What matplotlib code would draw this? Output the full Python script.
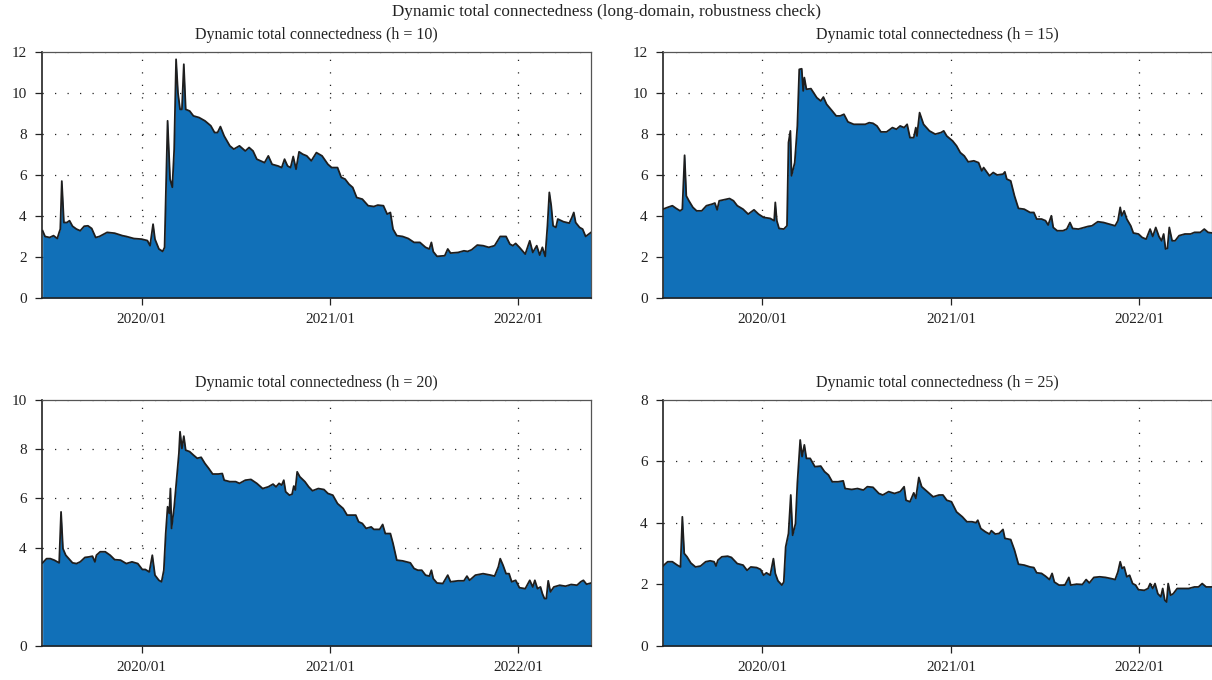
import pandas as pd
import matplotlib
matplotlib.use("Agg")
import matplotlib.pyplot as plt
import matplotlib.dates as mdates

plt.rcParams["font.family"] = ["Liberation Serif", "DejaVu Serif"]

# decimal-year positions and values
t10 = [2019.474, 2019.487, 2019.511, 2019.532, 2019.552, 2019.562, 2019.568, 2019.576, 2019.587, 2019.603,
       2019.617, 2019.633, 2019.654, 2019.674, 2019.695, 2019.715, 2019.735, 2019.756, 2019.776, 2019.796,
       2019.817, 2019.857, 2019.878, 2019.898, 2019.919, 2019.939, 2019.959, 2020.000, 2020.031, 2020.045,
       2020.061, 2020.071, 2020.092, 2020.112, 2020.122, 2020.128, 2020.138, 2020.151, 2020.163, 2020.173,
       2020.183, 2020.193, 2020.204, 2020.214, 2020.224, 2020.234, 2020.255, 2020.275, 2020.305, 2020.336,
       2020.367, 2020.387, 2020.403, 2020.418, 2020.438, 2020.468, 2020.489, 2020.519, 2020.550, 2020.570,
       2020.591, 2020.611, 2020.652, 2020.672, 2020.692, 2020.723, 2020.743, 2020.758, 2020.774, 2020.790,
       2020.804, 2020.819, 2020.835, 2020.855, 2020.876, 2020.900, 2020.927, 2020.957, 2020.988, 2021.008,
       2021.039, 2021.059, 2021.079, 2021.100, 2021.120, 2021.141, 2021.171, 2021.202, 2021.232, 2021.253,
       2021.283, 2021.303, 2021.320, 2021.334, 2021.354, 2021.385, 2021.415, 2021.446, 2021.477, 2021.507,
       2021.527, 2021.538, 2021.548, 2021.568, 2021.609, 2021.625, 2021.640, 2021.680, 2021.711, 2021.731,
       2021.752, 2021.782, 2021.813, 2021.843, 2021.874, 2021.904, 2021.935, 2021.955, 2021.971, 2021.986,
       2022.006, 2022.037, 2022.061, 2022.077, 2022.098, 2022.114, 2022.128, 2022.143, 2022.155, 2022.165,
       2022.175, 2022.185, 2022.200, 2022.210, 2022.240, 2022.271, 2022.285, 2022.295, 2022.305, 2022.326,
       2022.342, 2022.358, 2022.387]
v10 = [3.28, 3.0, 2.95, 3.04, 2.9, 3.2, 3.36, 5.7, 3.68, 3.68,
       3.77, 3.5, 3.36, 3.28, 3.5, 3.52, 3.39, 2.95, 3.0, 3.1,
       3.2, 3.16, 3.1, 3.04, 3.0, 2.95, 2.9, 2.87, 2.8, 2.55,
       3.6, 2.87, 2.39, 2.27, 2.47, 4.8, 8.64, 5.8, 5.4, 7.26,
       11.64, 10.0, 9.2, 9.2, 11.4, 9.2, 9.12, 8.88, 8.8, 8.64,
       8.4, 8.07, 8.07, 8.36, 7.9, 7.42, 7.26, 7.42, 7.17, 7.34,
       7.17, 6.77, 6.6, 6.93, 6.52, 6.44, 6.36, 6.77, 6.44, 6.36,
       6.9, 6.28, 7.13, 7.01, 6.93, 6.69, 7.09, 6.93, 6.52, 6.36,
       6.36, 5.88, 5.8, 5.55, 5.39, 4.9, 4.82, 4.5, 4.46, 4.53,
       4.5, 4.09, 4.17, 3.36, 3.04, 3.0, 2.9, 2.71, 2.71, 2.47,
       2.39, 2.71, 2.26, 2.03, 2.06, 2.39, 2.19, 2.22, 2.3, 2.27,
       2.35, 2.58, 2.55, 2.47, 2.55, 3.0, 3.0, 2.63, 2.55, 2.66,
       2.47, 2.14, 2.79, 2.22, 2.55, 2.09, 2.47, 2.03, 3.52, 5.15,
       4.5, 3.52, 3.44, 3.85, 3.72, 3.65, 3.93, 4.17, 3.68, 3.44,
       3.36, 3.0, 3.2]

t15 = [2019.471, 2019.496, 2019.521, 2019.541, 2019.562, 2019.574, 2019.586, 2019.595, 2019.609, 2019.630,
       2019.650, 2019.677, 2019.702, 2019.733, 2019.747, 2019.759, 2019.770, 2019.794, 2019.825, 2019.846,
       2019.866, 2019.897, 2019.924, 2019.955, 2019.979, 2020.006, 2020.041, 2020.062, 2020.068, 2020.076,
       2020.088, 2020.113, 2020.130, 2020.138, 2020.148, 2020.154, 2020.171, 2020.185, 2020.195, 2020.208,
       2020.216, 2020.222, 2020.233, 2020.257, 2020.288, 2020.309, 2020.323, 2020.340, 2020.370, 2020.391,
       2020.412, 2020.432, 2020.453, 2020.484, 2020.514, 2020.545, 2020.566, 2020.586, 2020.607, 2020.628,
       2020.658, 2020.689, 2020.710, 2020.730, 2020.751, 2020.767, 2020.782, 2020.802, 2020.813, 2020.819,
       2020.833, 2020.854, 2020.885, 2020.916, 2020.947, 2020.961, 2020.977, 2021.008, 2021.029, 2021.049,
       2021.070, 2021.091, 2021.121, 2021.146, 2021.163, 2021.173, 2021.204, 2021.224, 2021.245, 2021.276,
       2021.286, 2021.296, 2021.317, 2021.337, 2021.358, 2021.389, 2021.420, 2021.440, 2021.455, 2021.481,
       2021.502, 2021.516, 2021.533, 2021.543, 2021.564, 2021.595, 2021.615, 2021.632, 2021.646, 2021.677,
       2021.708, 2021.728, 2021.749, 2021.780, 2021.811, 2021.842, 2021.872, 2021.887, 2021.899, 2021.907,
       2021.920, 2021.934, 2021.955, 2021.969, 2021.996, 2022.016, 2022.037, 2022.058, 2022.072, 2022.088,
       2022.105, 2022.119, 2022.130, 2022.140, 2022.150, 2022.160, 2022.175, 2022.191, 2022.212, 2022.243,
       2022.273, 2022.294, 2022.325, 2022.346, 2022.366, 2022.387]
v15 = [4.33, 4.42, 4.5, 4.37, 4.25, 4.33, 6.96, 4.98, 4.74, 4.42,
       4.25, 4.25, 4.5, 4.58, 4.63, 4.3, 4.74, 4.79, 4.85, 4.74,
       4.5, 4.33, 4.09, 4.3, 4.09, 3.93, 3.88, 3.77, 4.66, 3.77,
       3.39, 3.36, 3.52, 7.58, 8.15, 5.96, 6.6, 8.39, 11.15, 11.18,
       10.1, 10.75, 10.18, 10.21, 9.77, 9.61, 9.8, 9.45, 9.12, 8.88,
       8.88, 8.96, 8.59, 8.47, 8.47, 8.47, 8.55, 8.52, 8.39, 8.1,
       8.1, 8.31, 8.23, 8.39, 8.31, 8.47, 7.82, 7.82, 8.31, 7.9,
       9.04, 8.47, 8.15, 7.99, 8.07, 8.15, 7.9, 7.66, 7.42, 7.09,
       6.93, 6.64, 6.69, 6.6, 6.2, 6.36, 5.96, 6.12, 6.0, 6.04,
       6.15, 5.8, 5.71, 4.98, 4.37, 4.33, 4.17, 4.17, 3.85, 3.85,
       3.77, 3.56, 4.01, 3.44, 3.28, 3.28, 3.36, 3.68, 3.39, 3.36,
       3.44, 3.49, 3.52, 3.72, 3.68, 3.6, 3.52, 3.77, 4.42, 4.01,
       4.25, 3.85, 3.52, 3.17, 3.12, 2.95, 2.87, 3.36, 3.0, 3.44,
       3.0, 2.79, 3.12, 2.39, 2.42, 3.44, 2.79, 2.79, 3.04, 3.12,
       3.12, 3.2, 3.2, 3.36, 3.2, 3.17]

t20 = [2019.474, 2019.495, 2019.515, 2019.536, 2019.562, 2019.572, 2019.582, 2019.597, 2019.613, 2019.633,
       2019.654, 2019.674, 2019.699, 2019.719, 2019.739, 2019.752, 2019.760, 2019.780, 2019.807, 2019.833,
       2019.857, 2019.888, 2019.919, 2019.949, 2019.980, 2020.004, 2020.020, 2020.041, 2020.057, 2020.071,
       2020.092, 2020.106, 2020.118, 2020.128, 2020.138, 2020.147, 2020.153, 2020.159, 2020.173, 2020.187,
       2020.198, 2020.204, 2020.214, 2020.224, 2020.234, 2020.255, 2020.275, 2020.295, 2020.316, 2020.336,
       2020.356, 2020.377, 2020.407, 2020.428, 2020.438, 2020.468, 2020.499, 2020.519, 2020.550, 2020.580,
       2020.611, 2020.642, 2020.672, 2020.697, 2020.713, 2020.729, 2020.743, 2020.754, 2020.764, 2020.784,
       2020.798, 2020.807, 2020.815, 2020.825, 2020.839, 2020.866, 2020.886, 2020.906, 2020.937, 2020.967,
       2020.988, 2021.014, 2021.039, 2021.069, 2021.090, 2021.116, 2021.136, 2021.151, 2021.171, 2021.191,
       2021.218, 2021.232, 2021.263, 2021.279, 2021.293, 2021.320, 2021.334, 2021.354, 2021.385, 2021.426,
       2021.446, 2021.466, 2021.487, 2021.507, 2021.527, 2021.538, 2021.548, 2021.568, 2021.599, 2021.625,
       2021.640, 2021.680, 2021.711, 2021.727, 2021.741, 2021.772, 2021.813, 2021.853, 2021.874, 2021.894,
       2021.904, 2021.919, 2021.935, 2021.951, 2021.965, 2021.986, 2022.006, 2022.037, 2022.061, 2022.077,
       2022.088, 2022.102, 2022.118, 2022.128, 2022.139, 2022.149, 2022.159, 2022.171, 2022.189, 2022.220,
       2022.251, 2022.281, 2022.312, 2022.332, 2022.346, 2022.363, 2022.387]
v20 = [3.38, 3.55, 3.55, 3.49, 3.38, 5.45, 3.96, 3.69, 3.55, 3.38,
       3.35, 3.42, 3.6, 3.62, 3.65, 3.42, 3.69, 3.83, 3.83, 3.69,
       3.51, 3.49, 3.35, 3.42, 3.35, 3.11, 3.11, 3.01, 3.69, 2.88,
       2.67, 2.61, 3.08, 4.57, 5.66, 5.39, 6.4, 4.78, 5.66, 6.88,
       7.83, 8.71, 8.03, 8.53, 7.96, 7.9, 7.76, 7.63, 7.67, 7.42,
       7.22, 6.99, 6.99, 7.01, 6.74, 6.68, 6.68, 6.61, 6.74, 6.77,
       6.61, 6.4, 6.47, 6.58, 6.47, 6.61, 6.54, 6.74, 6.27, 6.13,
       6.17, 6.5, 6.34, 7.08, 6.88, 6.68, 6.47, 6.31, 6.4, 6.36,
       6.2, 6.13, 5.79, 5.59, 5.32, 5.32, 5.32, 5.05, 4.98, 4.78,
       4.84, 4.74, 4.74, 4.94, 4.57, 4.57, 4.17, 3.49, 3.46, 3.38,
       3.15, 3.08, 3.08, 2.88, 2.84, 3.08, 2.74, 2.56, 2.54, 2.88,
       2.61, 2.65, 2.65, 2.84, 2.67, 2.88, 2.94, 2.88, 2.84, 3.22,
       3.55, 3.28, 2.94, 2.94, 2.61, 2.67, 2.37, 2.33, 2.67, 2.4,
       2.67, 2.33, 2.4, 2.13, 1.93, 1.93, 2.65, 2.2, 2.4, 2.47,
       2.43, 2.5, 2.47, 2.61, 2.67, 2.51, 2.56]

t25 = [2019.471, 2019.496, 2019.521, 2019.547, 2019.564, 2019.574, 2019.584, 2019.599, 2019.619, 2019.644,
       2019.671, 2019.698, 2019.722, 2019.743, 2019.753, 2019.763, 2019.784, 2019.815, 2019.835, 2019.866,
       2019.897, 2019.918, 2019.938, 2019.969, 2019.990, 2020.006, 2020.021, 2020.041, 2020.058, 2020.068,
       2020.082, 2020.103, 2020.113, 2020.123, 2020.138, 2020.150, 2020.160, 2020.175, 2020.185, 2020.200,
       2020.210, 2020.222, 2020.233, 2020.253, 2020.278, 2020.309, 2020.329, 2020.350, 2020.370, 2020.401,
       2020.428, 2020.438, 2020.473, 2020.504, 2020.535, 2020.556, 2020.586, 2020.617, 2020.638, 2020.669,
       2020.700, 2020.730, 2020.751, 2020.761, 2020.782, 2020.802, 2020.813, 2020.829, 2020.844, 2020.874,
       2020.905, 2020.936, 2020.957, 2020.977, 2021.002, 2021.029, 2021.060, 2021.084, 2021.111, 2021.132,
       2021.142, 2021.158, 2021.183, 2021.204, 2021.214, 2021.235, 2021.255, 2021.276, 2021.286, 2021.317,
       2021.337, 2021.358, 2021.389, 2021.420, 2021.440, 2021.455, 2021.481, 2021.502, 2021.523, 2021.537,
       2021.549, 2021.574, 2021.605, 2021.626, 2021.636, 2021.667, 2021.698, 2021.718, 2021.735, 2021.759,
       2021.790, 2021.821, 2021.852, 2021.872, 2021.887, 2021.899, 2021.909, 2021.920, 2021.934, 2021.949,
       2021.965, 2021.981, 2021.996, 2022.027, 2022.047, 2022.058, 2022.072, 2022.084, 2022.099, 2022.115,
       2022.125, 2022.136, 2022.146, 2022.154, 2022.167, 2022.181, 2022.202, 2022.233, 2022.263, 2022.294,
       2022.315, 2022.335, 2022.356, 2022.387]
v25 = [2.6, 2.74, 2.74, 2.63, 2.57, 4.2, 3.01, 2.9, 2.7, 2.57,
       2.6, 2.74, 2.77, 2.74, 2.6, 2.79, 2.9, 2.92, 2.88, 2.68,
       2.63, 2.46, 2.57, 2.55, 2.49, 2.3, 2.38, 2.3, 2.84, 2.36,
       2.12, 1.98, 2.08, 3.22, 3.66, 4.91, 3.6, 3.98, 5.29, 6.7,
       6.16, 6.54, 6.1, 6.1, 5.83, 5.85, 5.67, 5.56, 5.34, 5.34,
       5.37, 5.12, 5.09, 5.12, 5.07, 5.18, 5.16, 4.96, 4.91, 5.02,
       4.96, 5.02, 5.18, 4.74, 4.69, 4.98, 4.8, 5.48, 5.18, 5.02,
       4.85, 4.91, 4.91, 4.74, 4.69, 4.36, 4.2, 4.04, 4.04, 4.01,
       4.09, 3.82, 3.71, 3.64, 3.75, 3.64, 3.66, 3.79, 3.5, 3.46,
       3.12, 2.66, 2.63, 2.57, 2.55, 2.38, 2.36, 2.27, 2.16, 2.36,
       2.08, 1.98, 1.98, 2.23, 1.98, 2.01, 2.0, 2.16, 2.05, 2.23,
       2.25, 2.23, 2.19, 2.16, 2.41, 2.74, 2.52, 2.57, 2.25, 2.3,
       2.03, 1.98, 1.83, 1.81, 1.87, 2.03, 1.87, 2.03, 1.7, 1.6,
       1.87, 1.49, 1.43, 2.03, 1.65, 1.7, 1.87, 1.87, 1.87, 1.92,
       1.92, 2.03, 1.92, 1.92]

horizons = [10, 15, 20, 25]
series_t = [t10, t15, t20, t25]
series_v = [v10, v15, v20, v25]
y_ticks = [[0, 2, 4, 6, 8, 10, 12], [0, 2, 4, 6, 8, 10, 12], [0, 4, 6, 8, 10], [0, 2, 4, 6, 8]]
y_max = [12, 12, 10, 8]
x_start, x_end = 2019.471, 2022.387


def to_date(t):
    y = int(t)
    a = pd.Timestamp(year=y, month=1, day=1)
    b = pd.Timestamp(year=y + 1, month=1, day=1)
    return a + (b - a) * (t - y)


fill_col = "#1170b8"
fig = plt.figure(figsize=(12.12, 6.8), dpi=100)

# axes boxes in figure fractions (left, bottom, width, height)
boxes = [(0.0347, 0.5618, 0.453, 0.3618), (0.547, 0.5618, 0.453, 0.3618),
         (0.0347, 0.05, 0.453, 0.3618), (0.547, 0.05, 0.453, 0.3618)]

for i in range(4):
    ax = fig.add_axes(boxes[i])
    d = [to_date(t) for t in series_t[i]]
    ax.fill_between(d, series_v[i], 0, color=fill_col, lw=0, zorder=2)
    ax.plot(d, series_v[i], color="#1e1e1e", lw=1.3, zorder=3)
    ax.set_xlim(to_date(x_start), to_date(x_end))
    ax.set_ylim(0, y_max[i])
    ax.set_yticks(y_ticks[i])
    ax.xaxis.set_major_locator(mdates.YearLocator())
    ax.xaxis.set_major_formatter(mdates.DateFormatter("%Y/%m"))
    ax.set_axisbelow(True)
    ax.grid(True, color="#222222", linestyle=(0, (1, 9)), linewidth=0.9)
    ax.tick_params(direction="out", length=5, width=0.9, labelsize=11,
                   pad=6, colors="#222222", top=False, right=False)
    for s in ["left", "bottom"]:
        ax.spines[s].set_color("#222222")
        ax.spines[s].set_linewidth(1.2)
    for s in ["top", "right"]:
        ax.spines[s].set_color("#555555")
        ax.spines[s].set_linewidth(0.9)
    ax.set_title("Dynamic total connectedness (h = %d)" % horizons[i],
                 fontsize=11.5, pad=9, color="#222222")

fig.text(0.5, 1 - 12 / 680, "Dynamic total connectedness (long-domain, robustness check)",
         ha="center", va="center", fontsize=12.3, color="#222222")

fig.savefig("out.png", dpi=100)
